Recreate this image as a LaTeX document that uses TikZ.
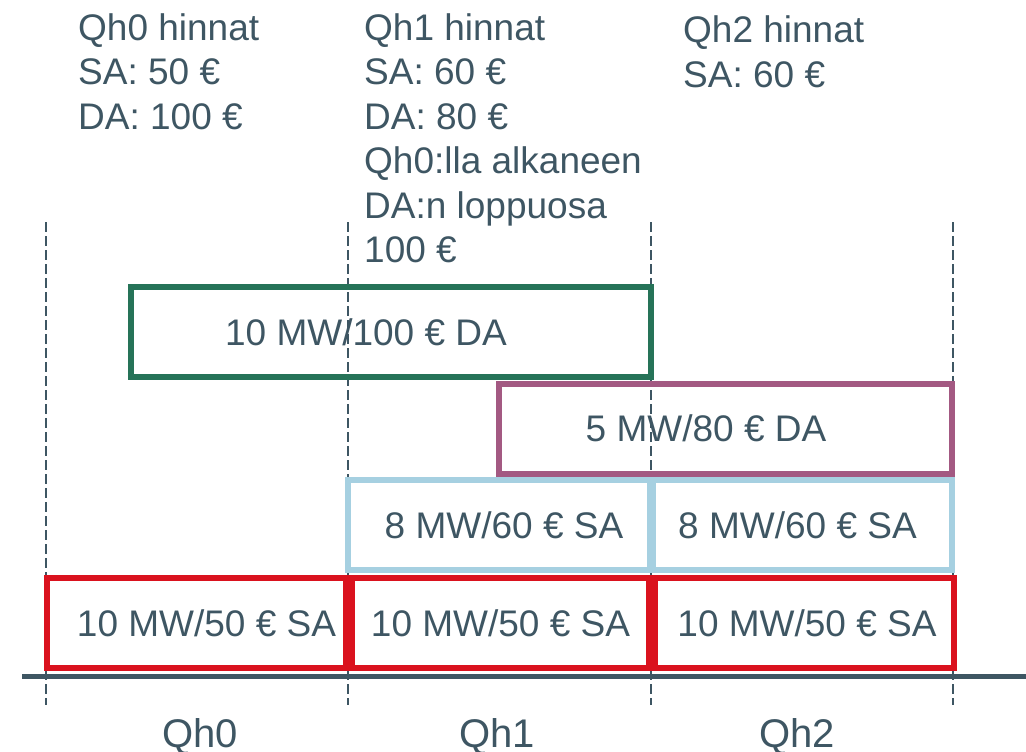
\documentclass[tikz,border=0pt]{standalone}
\usepackage{fontspec}
\setmainfont{Liberation Sans}
\usepackage{tikz}
\definecolor{txtgray}{RGB}{62,86,99}
\definecolor{sared}{RGB}{218,18,30}
\definecolor{sablue}{RGB}{166,208,225}
\definecolor{dagreen}{RGB}{38,115,88}
\definecolor{dapurple}{RGB}{163,89,130}
\tikzstyle{slot} = [draw, line width=6pt, minimum height=90pt, inner sep=0pt, text=txtgray, font=\fontsize{37}{44.5}\selectfont]
\tikzstyle{prices} = [anchor=base west, inner sep=0pt, align=left, text=txtgray, font=\fontsize{37}{44.5}\selectfont]
\tikzstyle{qhlabel} = [anchor=base, inner sep=0pt, text=txtgray, font=\fontsize{40}{48}\selectfont]
\tikzstyle{border} = [draw=txtgray, line width=2pt, dash pattern=on 10pt off 4pt]
\tikzstyle{axis} = [draw=txtgray, line width=5pt]

\begin{document}
\begin{tikzpicture}[x=1pt, y=-1pt]
      \useasboundingbox (0,0) rectangle (1026,752);

      % quarter-hour borders
      \foreach \x in {46,348,651,953}
        \draw[border] (\x,222) -- (\x,705);

      % prices per quarter hour (placed at the baseline of the last line)
      \node[prices] (price0) at (78,129) {Qh0 hinnat\\SA: 50 €\\DA: 100 €};
      \node[prices] (price1) at (364,262.5) {Qh1 hinnat\\SA: 60 €\\DA: 80 €\\Qh0:lla alkaneen\\DA:n loppuosa\\100 €};
      \node[prices] (price2) at (683,87.5) {Qh2 hinnat\\SA: 60 €};

      % bids
      \node[slot, draw=dagreen, minimum width=520pt] (da0) at (391,332) {10 MW/100 € DA\hspace*{50pt}};
      \node[slot, draw=dapurple, minimum width=453pt] (da1) at (725.5,428.5) {5 MW/80 € DA\hspace*{39pt}};
      \node[slot, draw=sablue, minimum width=302pt] (sa1b) at (499,525) {\hspace*{10pt}8 MW/60 € SA};
      \node[slot, draw=sablue, minimum width=299pt] (sa2b) at (802.5,525) {8 MW/60 € SA\hspace*{10pt}};
      \node[slot, draw=sared, minimum width=299pt] (sa0) at (196.5,623) {\hspace*{20pt}10 MW/50 € SA};
      \node[slot, draw=sared, minimum width=297pt] (sa1) at (500.5,623) {10 MW/50 € SA};
      \node[slot, draw=sared, minimum width=299pt] (sa2) at (804.5,623) {\hspace*{5pt}10 MW/50 € SA};

      % time axis
      \draw[axis] (22,676) -- (1026,676);

      \node[qhlabel] (qh0) at (200,747) {Qh0};
      \node[qhlabel] (qh1) at (497,747) {Qh1};
      \node[qhlabel] (qh2) at (797,747) {Qh2};
\end{tikzpicture}
\end{document}
